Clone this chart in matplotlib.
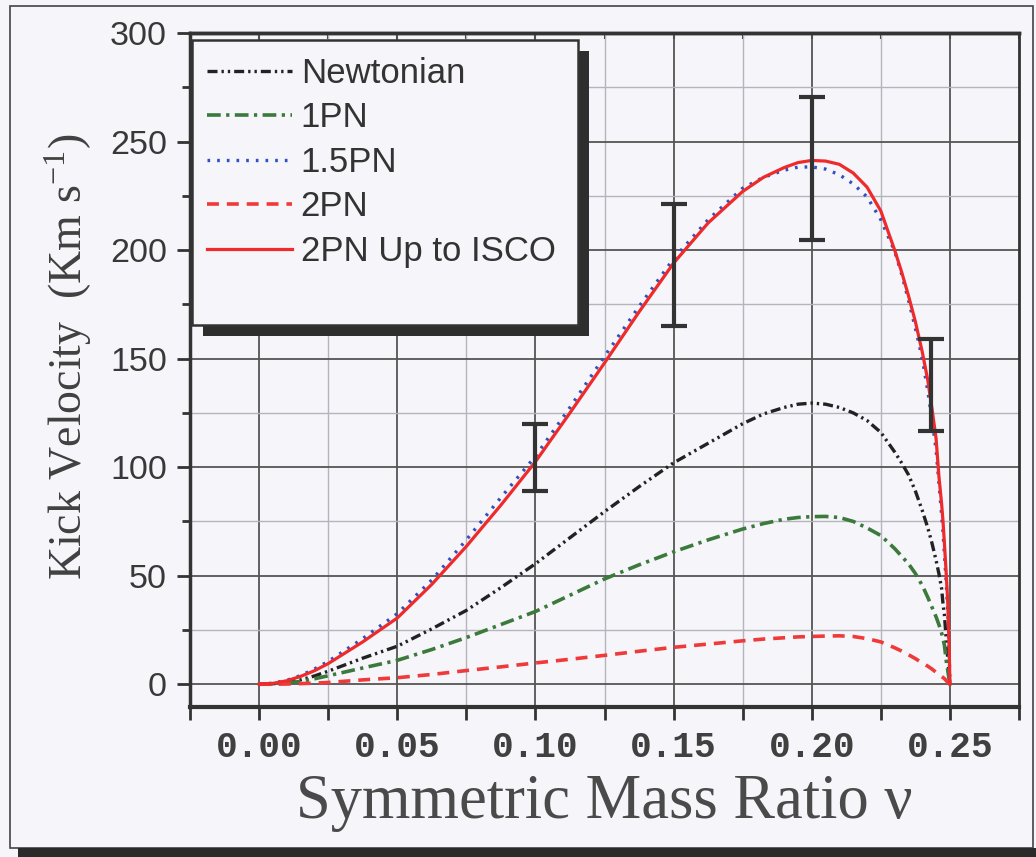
import matplotlib.pyplot as plt
from matplotlib.patches import Rectangle
from matplotlib.ticker import MultipleLocator

plt.rcParams['mathtext.fontset'] = 'stix'

# symmetric mass ratio grid and kick velocities (km/s)
nu = [0, 0.005, 0.01, 0.015, 0.02, 0.025, 0.0375, 0.05, 0.0625, 0.075, 0.0875,
      0.10, 0.1125, 0.125, 0.1375, 0.15, 0.1625, 0.175, 0.1825, 0.19, 0.195,
      0.20, 0.205, 0.21, 0.215, 0.22, 0.225, 0.23, 0.2325, 0.235, 0.2375,
      0.24, 0.242, 0.2435, 0.245, 0.246, 0.247, 0.2475, 0.248, 0.2487,
      0.2492, 0.2495, 0.2498, 0.25]

v_newton = [0, 0.2, 0.8, 2.0, 3.8, 6.0, 12.0, 17.5, 25.5, 34.0, 44.5,
            55.5, 67.5, 79.5, 91.0, 102.0, 111.0, 120.0, 124.5, 127.5, 129.0,
            129.5, 129.0, 127.5, 125.0, 121.5, 116.0, 107.0, 102.0, 96.5, 89.0,
            80.0, 72.0, 65.0, 57.0, 51.0, 44.0, 37.0, 32.0, 20.0,
            12.0, 7.0, 3.0, 0]
v_1pn = [0, 0.1, 0.5, 1.3, 2.5, 3.9, 7.5, 11.0, 16.0, 21.5, 27.5,
         33.5, 41.0, 48.5, 55.0, 61.0, 66.5, 71.5, 74.0, 76.0, 76.8,
         77.2, 77.3, 76.8, 75.0, 72.0, 68.5, 62.5, 59.0, 55.5, 51.0,
         45.5, 40.0, 35.5, 31.0, 27.5, 23.5, 21.0, 18.0, 10.5,
         6.5, 4.0, 1.5, 0]
v_15pn = [0, 0.5, 1.8, 4.0, 7.0, 10.5, 21.0, 32.5, 48.0, 66.5, 86.0,
          105.0, 127.5, 151.0, 174.0, 196.0, 214.0, 228.5, 233.5, 236.8, 238.2,
          238.3, 237.3, 234.7, 230.5, 224.5, 214.0, 199.5, 189.0, 177.0, 164.0,
          150.0, 135.0, 122.0, 108.0, 93.0, 78.0, 70.0, 60.0, 46.0,
          34.0, 23.0, 11.0, 0]
v_2pn = [0, 0, 0.1, 0.3, 0.5, 0.8, 2.0, 3.0, 4.5, 6.3, 8.0,
         9.8, 11.5, 13.3, 15.2, 17.0, 18.5, 20.0, 20.8, 21.4, 21.8,
         22.0, 22.2, 22.3, 22.0, 21.0, 19.5, 16.8, 15.3, 13.6, 11.8,
         9.8, 8.3, 7.0, 5.5, 4.6, 3.6, 3.1, 2.6, 1.6,
         1.0, 0.6, 0.3, 0]
v_isco = [0, 0.4, 1.6, 3.6, 6.2, 9.5, 19.5, 30.5, 46.0, 63.5, 82.5,
          102.5, 125.0, 148.0, 171.5, 194.0, 212.5, 227.0, 233.5, 238.0, 240.3,
          241.3, 241.0, 239.5, 235.5, 229.0, 218.0, 200.0, 190.0, 179.0, 167.0,
          153.0, 140.0, 127.0, 113.0, 96.0, 83.0, 75.0, 65.0, 50.0,
          38.0, 26.0, 13.0, 0]

# numerical-relativity ranges shown as error bars
err_nu = [0.10, 0.15, 0.20, 0.243]
err_lo = [89.0, 165.0, 204.5, 116.5]
err_hi = [120.0, 221.0, 270.5, 159.0]

series_labels = ['Newtonian', '1PN', '1.5PN', '2PN', '2PN Up to ISCO']
xtick_vals = [0.00, 0.05, 0.10, 0.15, 0.20, 0.25]
xtick_labels = ['0.00', '0.05', '0.10', '0.15', '0.20', '0.25']
ytick_vals = [0, 50, 100, 150, 200, 250, 300]
ytick_labels = ['0', '50', '100', '150', '200', '250', '300']

bg = '#f5f5fa'
ink = '#383838'

fig = plt.figure(figsize=(10.36, 8.57), dpi=100, facecolor=bg)
ax = fig.add_axes([0.1834, 0.175, 0.8002, 0.7865], facecolor=bg)

ax.plot(nu, v_newton, color='#222222', lw=2.4,
        linestyle=(0, (3.0, 1.2, 0.7, 1.2, 0.7, 1.2)), label=series_labels[0], zorder=3)
ax.plot(nu, v_1pn, color='#3b7a3b', lw=2.6,
        linestyle=(0, (3.8, 1.5, 0.9, 1.5)), label=series_labels[1], zorder=3)
ax.plot(nu, v_15pn, color='#3050c0', lw=2.4,
        linestyle=(0, (0.8, 2.1)), label=series_labels[2], zorder=3)
ax.plot(nu, v_2pn, color='#f03a3a', lw=2.6,
        linestyle=(0, (3.3, 2.2)), label=series_labels[3], zorder=3)
ax.plot(nu, v_isco, color='#ee2a2a', lw=2.3, label=series_labels[4], zorder=4)

mid = [(a + b) / 2 for a, b in zip(err_lo, err_hi)]
ax.errorbar(err_nu, mid, yerr=[[m - a for m, a in zip(mid, err_lo)],
                               [b - m for m, b in zip(mid, err_hi)]],
            fmt='none', ecolor='#333333', elinewidth=3, capsize=9.5, capthick=3, zorder=5)

ax.set_xlim(-0.025, 0.275)
ax.set_ylim(-10.5, 300)

ax.set_xticks(xtick_vals, labels=xtick_labels, fontfamily='Liberation Mono',
              fontweight='bold', fontsize=26, color='#404040')
ax.set_yticks(ytick_vals, labels=ytick_labels, fontfamily='Liberation Sans',
              fontsize=24.5, color=ink)
ax.xaxis.set_minor_locator(MultipleLocator(0.025))
ax.yaxis.set_minor_locator(MultipleLocator(25))

ax.tick_params(axis='x', which='both', direction='out', length=9.5, width=2,
               color='#333333', pad=7)
ax.tick_params(axis='y', which='major', direction='out', length=9.5, width=2,
               color='#333333', pad=7)
ax.tick_params(axis='y', which='minor', direction='out', length=6, width=2,
               color='#333333')

top = ax.secondary_xaxis('top')
top.xaxis.set_major_locator(MultipleLocator(0.025))
top.tick_params(direction='in', length=4, width=1.5, color='#333333', labeltop=False)
top.spines['top'].set_linewidth(2.5)
top.spines['top'].set_color('#333333')

ax.grid(which='major', color='#555555', lw=1.3)
ax.grid(which='minor', color='#b4b4bc', lw=1.0)
ax.set_axisbelow(True)

for side, w in [('left', 2.5), ('bottom', 3), ('right', 2), ('top', 2.5)]:
    ax.spines[side].set_linewidth(w)
    ax.spines[side].set_color('#333333')

ax.set_xlabel('Symmetric Mass Ratio ν', fontfamily='Liberation Serif',
              fontsize=45, color='#4a4a4a', va='top')
ax.xaxis.set_label_coords(0.5, -0.1)
ax.set_ylabel('Kick Velocity  (Km s$^{\\mathregular{-1}}$)',
              fontfamily='Liberation Serif', fontsize=33, color='#404040', va='center')
ax.yaxis.set_label_coords(-0.147, 0.52)

# legend box with drop shadow
lx0, lx1 = 192 / 1036, 578 / 1036
ly0, ly1 = 1 - 325 / 857, 1 - 40 / 857
sdx, sdy = 11 / 1036, 11 / 857
ax.add_patch(Rectangle((lx0 + sdx, ly0 - sdy), lx1 - lx0, ly1 - ly0,
                       transform=fig.transFigure, facecolor='#2e2e2e',
                       edgecolor='none', zorder=6, clip_on=False))
ax.add_patch(Rectangle((lx0, ly0), lx1 - lx0, ly1 - ly0,
                       transform=fig.transFigure, facecolor=bg,
                       edgecolor='#333333', lw=1.8, zorder=7, clip_on=False))
leg = ax.legend(loc='upper left', bbox_to_anchor=(207 / 1036, 1 - 57 / 857),
                bbox_transform=fig.transFigure, frameon=False,
                prop={'family': 'Liberation Sans', 'size': 25},
                handlelength=2.45, handletextpad=0.25, labelspacing=0.33,
                borderpad=0, borderaxespad=0)
leg.set_zorder(8)
for t in leg.get_texts():
    t.set_color('#333333')

# scanned page frame
fig.add_artist(Rectangle((10 / 1036, 1 - 848 / 857), 1023 / 1036, 842 / 857,
                         transform=fig.transFigure, facecolor='none',
                         edgecolor='#444444', lw=1.2))
fig.add_artist(Rectangle((18 / 1036, 0), 1 - 18 / 1036, 9 / 857,
                         transform=fig.transFigure, facecolor='#2a2a2a',
                         edgecolor='none'))

fig.savefig('out.png', dpi=100, facecolor=bg)
